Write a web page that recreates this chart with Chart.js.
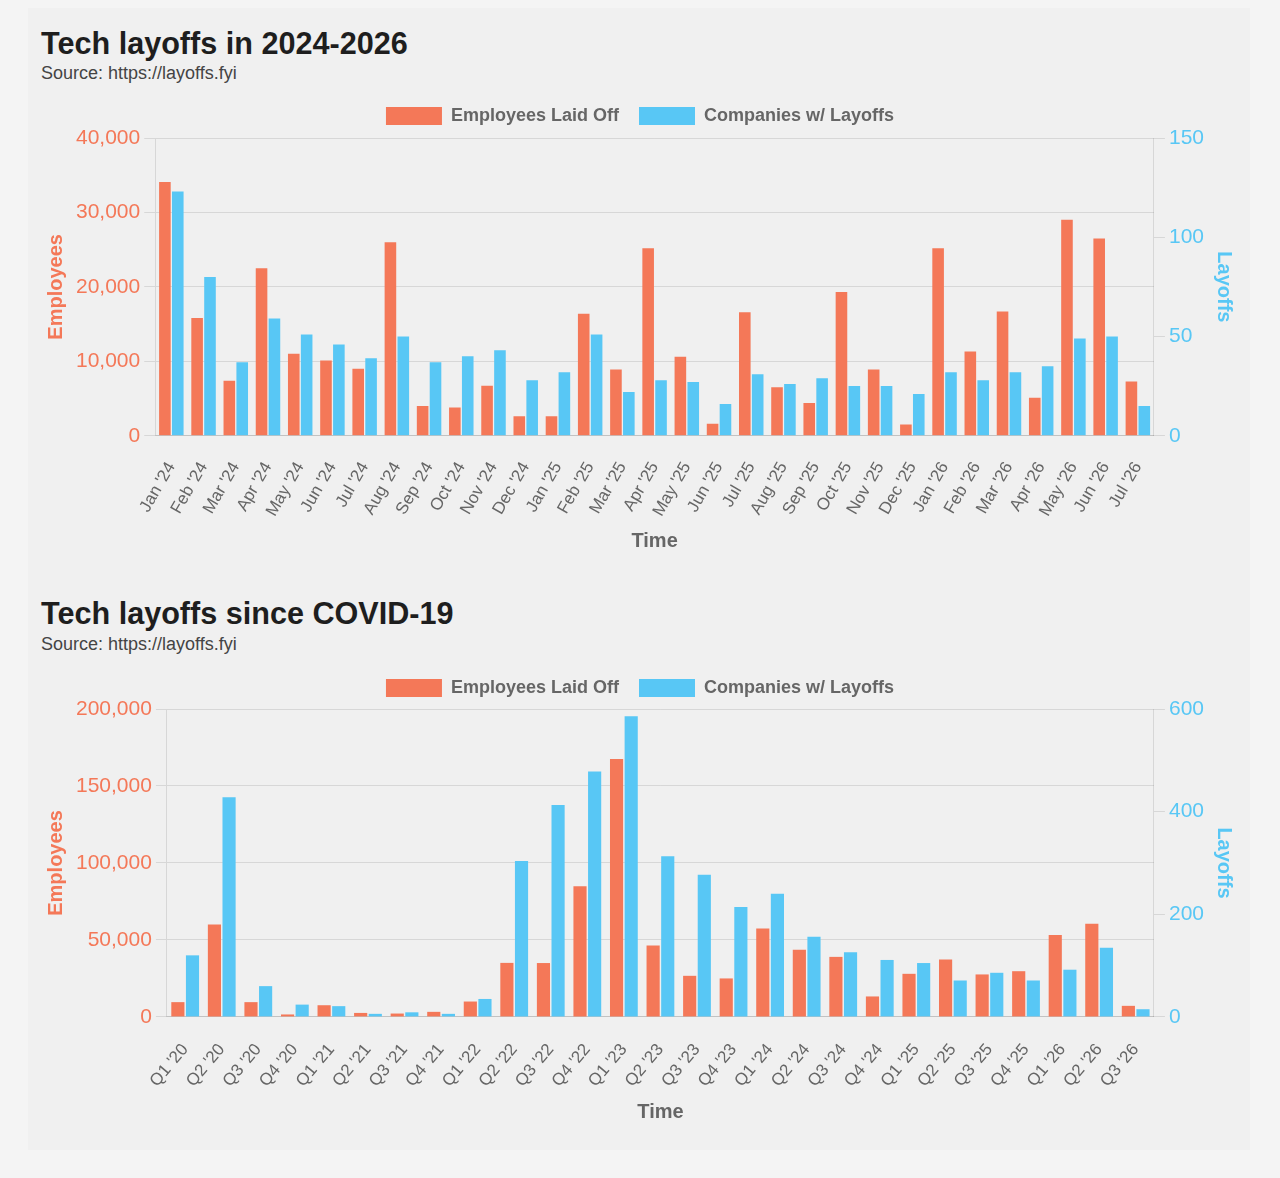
<!DOCTYPE html>
<html>
<head>
<meta charset="utf-8">
<script src="https://cdn.jsdelivr.net/npm/chart.js@4.4.1/dist/chart.umd.min.js"></script>
<style>
  html, body { margin: 0; padding: 0; background: #f4f4f4; }
  body { width: 1280px; height: 1178px; position: relative; overflow: hidden; font-family: "Liberation Sans", Arial, Helvetica, sans-serif; }
  #card { position: absolute; left: 28px; top: 8px; width: 1222px; height: 1142px; background: #f0f0f0; }
  h2 { position: absolute; left: 41px; margin: 0; font-size: 30.6px; font-weight: bold; color: #1e1e1e; line-height: 30px; }
  p.src { position: absolute; left: 41px; margin: 0; font-size: 18px; color: #444; line-height: 18px; }
  .wrap { position: absolute; left: 40px; width: 1200px; }
</style>
</head>
<body>
<div id="card"></div>
<h2 style="top:28px">Tech layoffs in 2024-2026</h2>
<p class="src" style="top:64px">Source: https://layoffs.fyi</p>
<div class="wrap" style="top:87px;height:470px"><canvas id="c1"></canvas></div>
<h2 style="top:598px">Tech layoffs since COVID-19</h2>
<p class="src" style="top:635px">Source: https://layoffs.fyi</p>
<div class="wrap" style="top:659px;height:469px"><canvas id="c2"></canvas></div>
<script>
const monthLabels = ["Jan '24","Feb '24","Mar '24","Apr '24","May '24","Jun '24","Jul '24","Aug '24","Sep '24","Oct '24","Nov '24","Dec '24",
  "Jan '25","Feb '25","Mar '25","Apr '25","May '25","Jun '25","Jul '25","Aug '25","Sep '25","Oct '25","Nov '25","Dec '25",
  "Jan '26","Feb '26","Mar '26","Apr '26","May '26","Jun '26","Jul '26"];
const monthEmployees = [34100,15800,7400,22500,11000,10100,9000,26000,4000,3800,6700,2600,
  2600,16400,8900,25200,10600,1600,16600,6500,4400,19300,8900,1500,
  25200,11300,16700,5100,29000,26500,7300];
const monthCompanies = [123,80,37,59,51,46,39,50,37,40,43,28,
  32,51,22,28,27,16,31,26,29,25,25,21,
  32,28,32,35,49,50,15];

const quarterLabels = ["Q1 '20","Q2 '20","Q3 '20","Q4 '20","Q1 '21","Q2 '21","Q3 '21","Q4 '21","Q1 '22","Q2 '22","Q3 '22","Q4 '22",
  "Q1 '23","Q2 '23","Q3 '23","Q4 '23","Q1 '24","Q2 '24","Q3 '24","Q4 '24","Q1 '25","Q2 '25","Q3 '25","Q4 '25","Q1 '26","Q2 '26","Q3 '26"];
const quarterEmployees = [9600,60100,9600,1600,7600,2600,2200,3300,10000,35100,35000,84800,
  167500,46400,26700,25000,57500,43600,39000,13300,28000,37300,27600,29700,53200,60500,7200];
const quarterCompanies = [120,428,60,24,21,6,9,6,35,304,413,478,
  586,313,277,214,240,156,126,111,105,71,86,71,92,135,15];

const ORANGE = 'rgb(244,120,88)';
const BLUE = 'rgb(88,199,245)';
const GREY = '#666';
const FONT = '"Liberation Sans", Arial, Helvetica, sans-serif';

const legendGap = {
  id: 'legendGap',
  beforeInit(chart, args, opts) {
    const orig = chart.legend.fit;
    chart.legend.fit = function () {
      orig.call(this);
      this.height += opts.extra || 0;
    };
  }
};

function makeChart(id, labels, emp, comp, empMax, empStep, compMax, compStep, rot, extra) {
  return new Chart(document.getElementById(id), {
    type: 'bar',
    plugins: [legendGap],
    data: {
      labels: labels,
      datasets: [
        { label: 'Employees Laid Off', data: emp, backgroundColor: ORANGE, yAxisID: 'y' },
        { label: 'Companies w/ Layoffs', data: comp, backgroundColor: BLUE, yAxisID: 'y1' }
      ]
    },
    options: {
      responsive: true,
      maintainAspectRatio: false,
      animation: false,
      devicePixelRatio: 1,
      layout: { padding: 0 },
      plugins: {
        legendGap: { extra: extra },
        legend: {
          position: 'top',
          labels: { boxWidth: 56, boxHeight: 18, padding: 20, color: GREY, font: { family: FONT, size: 18, weight: 'bold' } }
        },
        tooltip: { enabled: false }
      },
      scales: {
        x: {
          grid: { display: false },
          border: { display: true },
          ticks: { color: GREY, autoSkip: false, padding: 15, minRotation: rot, maxRotation: rot, font: { family: FONT, size: 17 } },
          title: { display: true, text: 'Time', color: GREY, padding: { top: -6, bottom: 4 }, font: { family: FONT, size: 20, weight: 'bold' } }
        },
        y: {
          position: 'left',
          min: 0, max: empMax,
          grid: { tickLength: 11 },
          ticks: { stepSize: empStep, padding: 4, color: ORANGE, font: { family: FONT, size: 21 } },
          title: { display: true, text: 'Employees', color: ORANGE, font: { family: FONT, size: 20, weight: 'bold' } }
        },
        y1: {
          position: 'right',
          min: 0, max: compMax,
          grid: { drawOnChartArea: false, tickLength: 11 },
          ticks: { stepSize: compStep, padding: 4, color: BLUE, font: { family: FONT, size: 21 } },
          title: { display: true, text: 'Layoffs', color: BLUE, font: { family: FONT, size: 20, weight: 'bold' } }
        }
      }
    }
  });
}

makeChart('c1', monthLabels, monthEmployees, monthCompanies, 40000, 10000, 150, 50, 60, 3);
makeChart('c2', quarterLabels, quarterEmployees, quarterCompanies, 200000, 50000, 600, 200, 50, 2);
</script>
</body>
</html>
